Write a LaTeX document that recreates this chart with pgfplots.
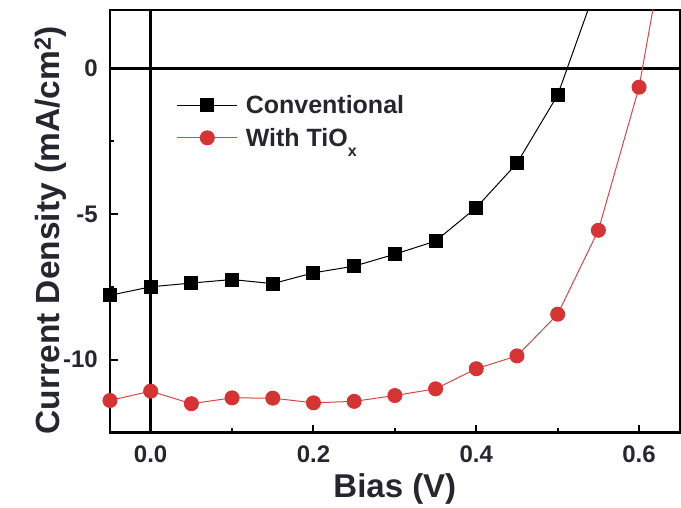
\documentclass[border=0pt]{standalone}
\usepackage{pgfplots}
\pgfplotsset{compat=1.18}
\usepackage{fontspec}
\setmainfont{Liberation Sans}
\definecolor{myred}{RGB}{214,52,52}
\definecolor{redline}{RGB}{215,70,70}
\definecolor{txt}{RGB}{38,38,46}
\begin{document}
\begin{tikzpicture}
\begin{axis}[
  scale only axis, width=570pt, height=422.7pt,
  xmin=-0.05, xmax=0.65, ymin=-12.5, ymax=2,
  axis line style={line width=2.5pt, black},
  tick pos=left, tick align=inside,
  xtick={0,0.2,0.4,0.6}, xticklabels={0.0,0.2,0.4,0.6},
  minor xtick={0.1,0.3,0.5},
  ytick={-10,-5,0}, yticklabels={-10,-5,0},
  minor ytick={-7.5,-2.5},
  major tick length=8pt, minor tick length=4.5pt,
  every tick/.style={line width=2pt, black},
  xticklabel style={font=\fontsize{24}{24}\selectfont\bfseries, text=txt, anchor=base, yshift=-30pt},
  yticklabel style={font=\fontsize{24}{24}\selectfont\bfseries, text=txt, anchor=east, inner sep=0pt, xshift=-12pt},
  xlabel={\bfseries Bias (V)},
  xlabel style={font=\fontsize{33}{33}\selectfont, text=txt, at={(axis description cs:0.5,-0.1538)}, anchor=base},
  ylabel={\bfseries Current Density (mA/cm\textsuperscript{2})},
  ylabel style={font=\fontsize{33.5}{33.5}\selectfont, text=txt, at={(axis description cs:-0.0877,0.4787)}, anchor=base, rotate=0},
  legend style={at={(axis description cs:0.117,0.803)}, anchor=north west, draw=none, fill=none,
     font=\fontsize{25}{25}\selectfont\bfseries, text=txt, inner sep=0pt,
     row sep=9pt},
  legend cell align=left,
  legend image code/.code={\draw[mark repeat=2,mark phase=2,#1] plot coordinates {(0pt,0pt)(30pt,0pt)(60pt,0pt)};},
]
\draw[line width=2.5pt, black] (axis cs:0,-12.5) -- (axis cs:0,2);
\draw[line width=2.5pt, black] (axis cs:-0.05,0) -- (axis cs:0.65,0);
\addplot[black, line width=1pt, mark=square*, mark size=6.5pt, mark options={fill=black, draw=black}]
 coordinates {
 (-0.05,-7.79) (0,-7.50) (0.05,-7.37) (0.10,-7.25) (0.15,-7.39) (0.20,-7.02)
 (0.25,-6.79) (0.30,-6.38) (0.35,-5.93) (0.40,-4.78) (0.45,-3.26) (0.50,-0.92) (0.55,3.0)
 };
\addlegendentry{\hspace{6pt}Conventional}
\addplot[redline, line width=1pt, mark=*, mark size=7pt, mark options={fill=myred, draw=myred}]
 coordinates {
 (-0.05,-11.40) (0,-11.08) (0.05,-11.51) (0.10,-11.31) (0.15,-11.32) (0.20,-11.48)
 (0.25,-11.43) (0.30,-11.23) (0.35,-11.00) (0.40,-10.31) (0.45,-9.87) (0.50,-8.44)
 (0.55,-5.56) (0.60,-0.65) (0.65,7.2)
 };
\addlegendentry{\hspace{6pt}With TiO\raisebox{-10pt}{\fontsize{16}{16}\selectfont x}}
\end{axis}
\path[use as bounding box] (-110pt,-73.3pt) rectangle (571pt,432.7pt);
\end{tikzpicture}
\end{document}
